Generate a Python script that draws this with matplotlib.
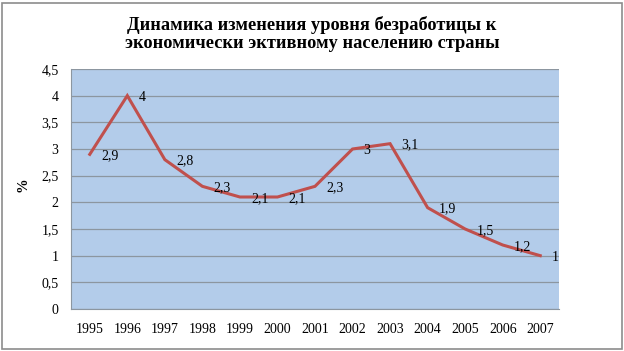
import matplotlib.pyplot as plt
from matplotlib.patches import Rectangle

years = ['1995', '1996', '1997', '1998', '1999', '2000', '2001',
         '2002', '2003', '2004', '2005', '2006', '2007']
unemployment = [2.9, 4, 2.8, 2.3, 2.1, 2.1, 2.3, 3, 3.1, 1.9, 1.5, 1.2, 1]
y_ticks = [0, 0.5, 1, 1.5, 2, 2.5, 3, 3.5, 4, 4.5]

plt.rcParams['font.family'] = ['Liberation Serif', 'DejaVu Serif']


def fmt(v):
    # запятая как десятичный разделитель
    return f'{v:g}'.replace('.', ',')


fig = plt.figure(figsize=(6.24, 3.51), dpi=100)
ax = fig.add_axes([71 / 624, 1 - 309 / 351, (559 - 71) / 624, (309 - 69) / 351])

x = list(range(len(years)))
ax.plot(x, unemployment, color='#C0504D', linewidth=2.2, solid_joinstyle='miter')
for xi, v in zip(x, unemployment):
    ax.annotate(fmt(v), (xi, v), xytext=(8, -1), textcoords='offset points',
                ha='left', va='center', fontsize=10)

ax.set_xlim(-0.5, len(years) - 0.5)
ax.set_ylim(0, 4.5)
ax.set_xticks(x)
ax.set_xticklabels(years, fontsize=10)
ax.set_yticks(y_ticks)
ax.set_yticklabels([fmt(t) for t in y_ticks], fontsize=10)
ax.tick_params(length=0)
ax.tick_params(axis='x', pad=10)
ax.tick_params(axis='y', pad=9)
ax.set_facecolor('#B3CCEA')
ax.grid(axis='y', color='#8C96A0', linewidth=0.9)
ax.set_axisbelow(True)
for side in ['top', 'right']:
    ax.spines[side].set_visible(False)
for side in ['left', 'bottom']:
    ax.spines[side].set_color('#8C96A0')

fig.text(23 / 624, 1 - 185 / 351, '%', rotation=90, fontsize=10.5, fontweight='bold',
         ha='center', va='center')
fig.text(312 / 624, 1 - 34 / 351,
         'Динамика изменения уровня безработицы к\nэкономически эктивному населению страны',
         ha='center', va='center', fontsize=13.2, fontweight='bold', linespacing=1.15)

fig.patches.append(Rectangle((2 / 624, 2 / 351), 620 / 624, 346 / 351,
                             transform=fig.transFigure, fill=False,
                             edgecolor='#8C8C8C', linewidth=1.2))

fig.savefig('out.png', dpi=100)
